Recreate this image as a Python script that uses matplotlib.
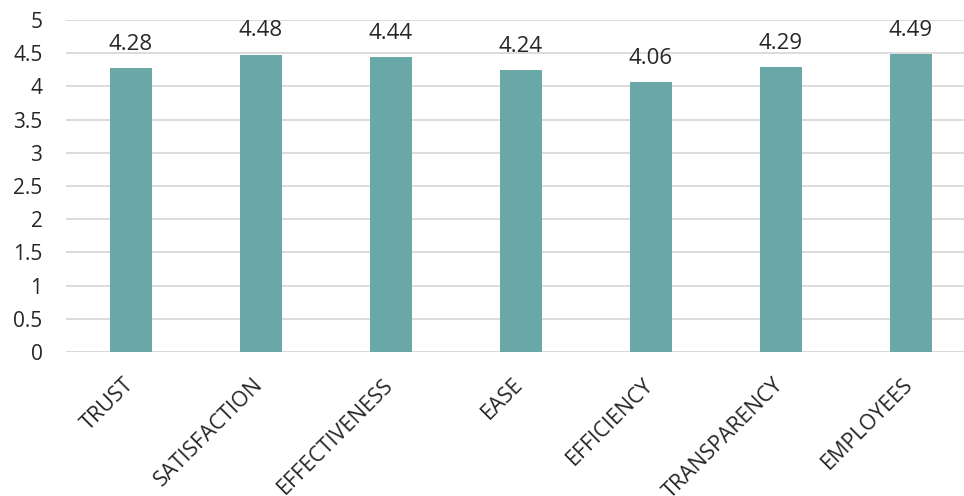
import matplotlib
matplotlib.use("Agg")
import matplotlib.pyplot as plt

categories = ["TRUST", "SATISFACTION", "EFFECTIVENESS", "EASE", "EFFICIENCY", "TRANSPARENCY", "EMPLOYEES"]
values = [4.28, 4.48, 4.44, 4.24, 4.06, 4.29, 4.49]
yticks = [0, 0.5, 1, 1.5, 2, 2.5, 3, 3.5, 4, 4.5, 5]
ytick_labels = ["0", "0.5", "1", "1.5", "2", "2.5", "3", "3.5", "4", "4.5", "5"]

plt.rcParams['font.family'] = ['Open Sans', 'DejaVu Sans']

fig = plt.figure(figsize=(9.64, 4.96), dpi=100)
ax = fig.add_axes([66/964, (496-352)/496, (964-66)/964, (352-20)/496])

x = list(range(len(categories)))
ax.bar(x, values, width=0.32, color="#6AA8A8", zorder=3)
for xi, v in zip(x, values):
    ax.annotate(f"{v:.2f}", (xi, v), xytext=(0, 13), textcoords="offset points",
                ha="center", va="baseline", fontsize=16, color="#262626")

ax.set_ylim(0, 5)
ax.set_xlim(-0.5, 6.5 - 12/130)
ax.set_yticks(yticks)
ax.set_yticklabels(ytick_labels, fontsize=15, color="#262626")
ax.set_xticks(x)
ax.set_xticklabels([])
for xi, cat in zip(x, categories):
    ax.annotate(cat, (xi, 0), xycoords=("data", "axes fraction"), xytext=(-6, -16),
                textcoords="offset points", ha="right", va="top", rotation=45,
                rotation_mode="anchor", fontsize=15.5, color="#262626", annotation_clip=False)
ax.yaxis.grid(True, color="#D9D9D9", linewidth=1.3, zorder=0)
ax.tick_params(axis="y", length=0, pad=17)
ax.tick_params(axis="x", length=0)
for s in ax.spines.values():
    s.set_visible(False)
ax.axhline(0, color="#D9D9D9", linewidth=1.3, zorder=2)

fig.savefig("out.png", dpi=100)
